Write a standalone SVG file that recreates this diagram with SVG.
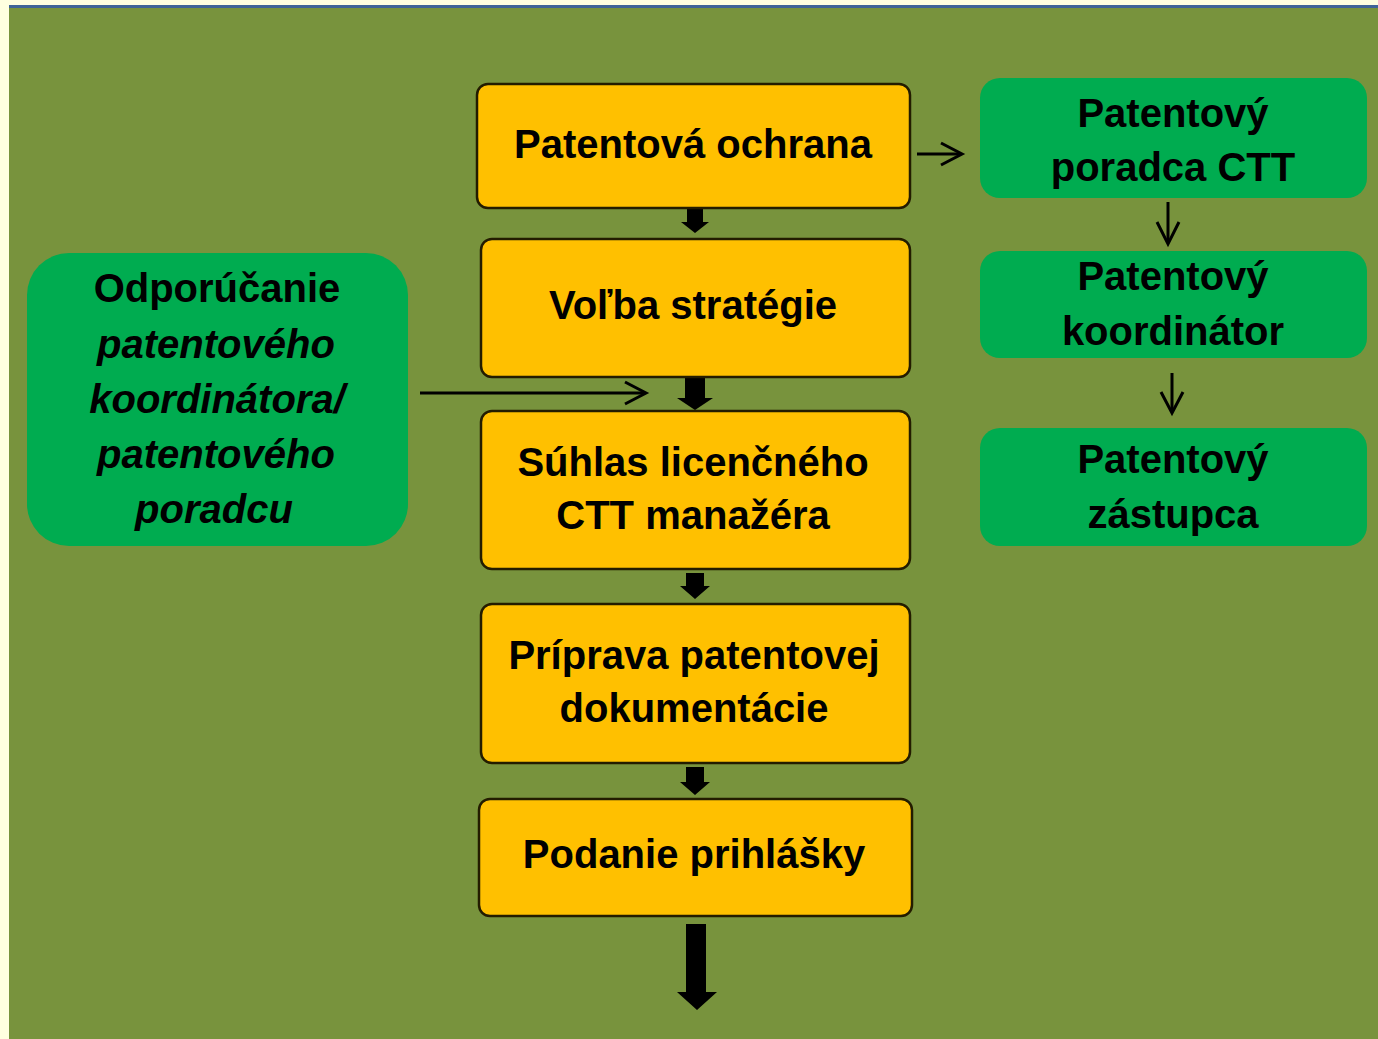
<svg xmlns="http://www.w3.org/2000/svg" width="1378" height="1039" viewBox="0 0 1378 1039">
<style>
.yb{fill:#FFC000;stroke:#231c00;stroke-width:2.5}
.gb{fill:#00AC50}
.t{font-family:"Liberation Sans",Arial,sans-serif;font-weight:bold;font-size:40px;fill:#000;text-anchor:middle}
.i{font-style:italic}
.blk{fill:#000}
.ln{fill:none;stroke:#000;stroke-width:3;stroke-linecap:butt;stroke-linejoin:miter}
</style>
<rect x="0" y="0" width="1378" height="1039" fill="#FFFFE0"/>
<rect x="9" y="5" width="1369" height="3" fill="#3F6497"/>
<rect x="9" y="8" width="1369" height="1031" fill="#78933D"/>

<g id="connectors">
<polygon class="blk" points="687,209 703,209 703,222 709,222 695,233 681,222 687,222"/>
<polygon class="blk" points="685,378 705,378 705,398 713,398 695,410 677,398 685,398"/>
<polygon class="blk" points="686,573 704,573 704,586 710,586 695,599 680,586 686,586"/>
<polygon class="blk" points="686,767 704,767 704,782 710,782 695,795 680,782 686,782"/>
<polygon class="blk" points="686,924 706,924 706,992 717,992 697,1010 677,992 686,992"/>
<line class="ln" x1="420" y1="393" x2="645" y2="393"/>
<polyline class="ln" points="625,382 646,393 625,404"/>
<line class="ln" x1="917" y1="154" x2="961" y2="154"/>
<polyline class="ln" points="941,143 962,154 941,165"/>
<line class="ln" x1="1168" y1="202" x2="1168" y2="243"/>
<polyline class="ln" points="1157,222 1168,244 1179,222"/>
<line class="ln" x1="1172" y1="373" x2="1172" y2="412"/>
<polyline class="ln" points="1161,392 1172,413 1183,392"/>
</g>

<g id="n1"><rect class="yb" x="477" y="84" width="433" height="124" rx="11"/>
<text class="t" x="693" y="158">Patentová ochrana</text></g>
<g id="n2"><rect class="yb" x="481" y="239" width="429" height="138" rx="11"/>
<text class="t" x="693" y="319">Voľba stratégie</text></g>
<g id="n3"><rect class="yb" x="481" y="411" width="429" height="158" rx="11"/>
<text class="t" x="693" y="476">Súhlas licenčného</text>
<text class="t" x="693" y="529">CTT manažéra</text></g>
<g id="n4"><rect class="yb" x="481" y="604" width="429" height="159" rx="11"/>
<text class="t" x="694" y="669">Príprava patentovej</text>
<text class="t" x="694" y="722">dokumentácie</text></g>
<g id="n5"><rect class="yb" x="479" y="799" width="433" height="117" rx="11"/>
<text class="t" x="694" y="868">Podanie prihlášky</text></g>

<g id="n6"><rect class="gb" x="27" y="253" width="381" height="293" rx="42"/>
<text class="t" x="217" y="302">Odporúčanie</text>
<text class="t i" x="216" y="358">patentového</text>
<text class="t i" x="217" y="413">koordinátora/</text>
<text class="t i" x="216" y="468">patentového</text>
<text class="t i" x="214" y="523">poradcu</text></g>

<g id="n7"><rect class="gb" x="980" y="78" width="387" height="120" rx="20"/>
<text class="t" x="1173" y="127">Patentový</text>
<text class="t" x="1173" y="181">poradca CTT</text></g>
<g id="n8"><rect class="gb" x="980" y="251" width="387" height="107" rx="20"/>
<text class="t" x="1173" y="290">Patentový</text>
<text class="t" x="1173" y="345">koordinátor</text></g>
<g id="n9"><rect class="gb" x="980" y="428" width="387" height="118" rx="20"/>
<text class="t" x="1173" y="473">Patentový</text>
<text class="t" x="1173" y="528">zástupca</text></g>
</svg>
